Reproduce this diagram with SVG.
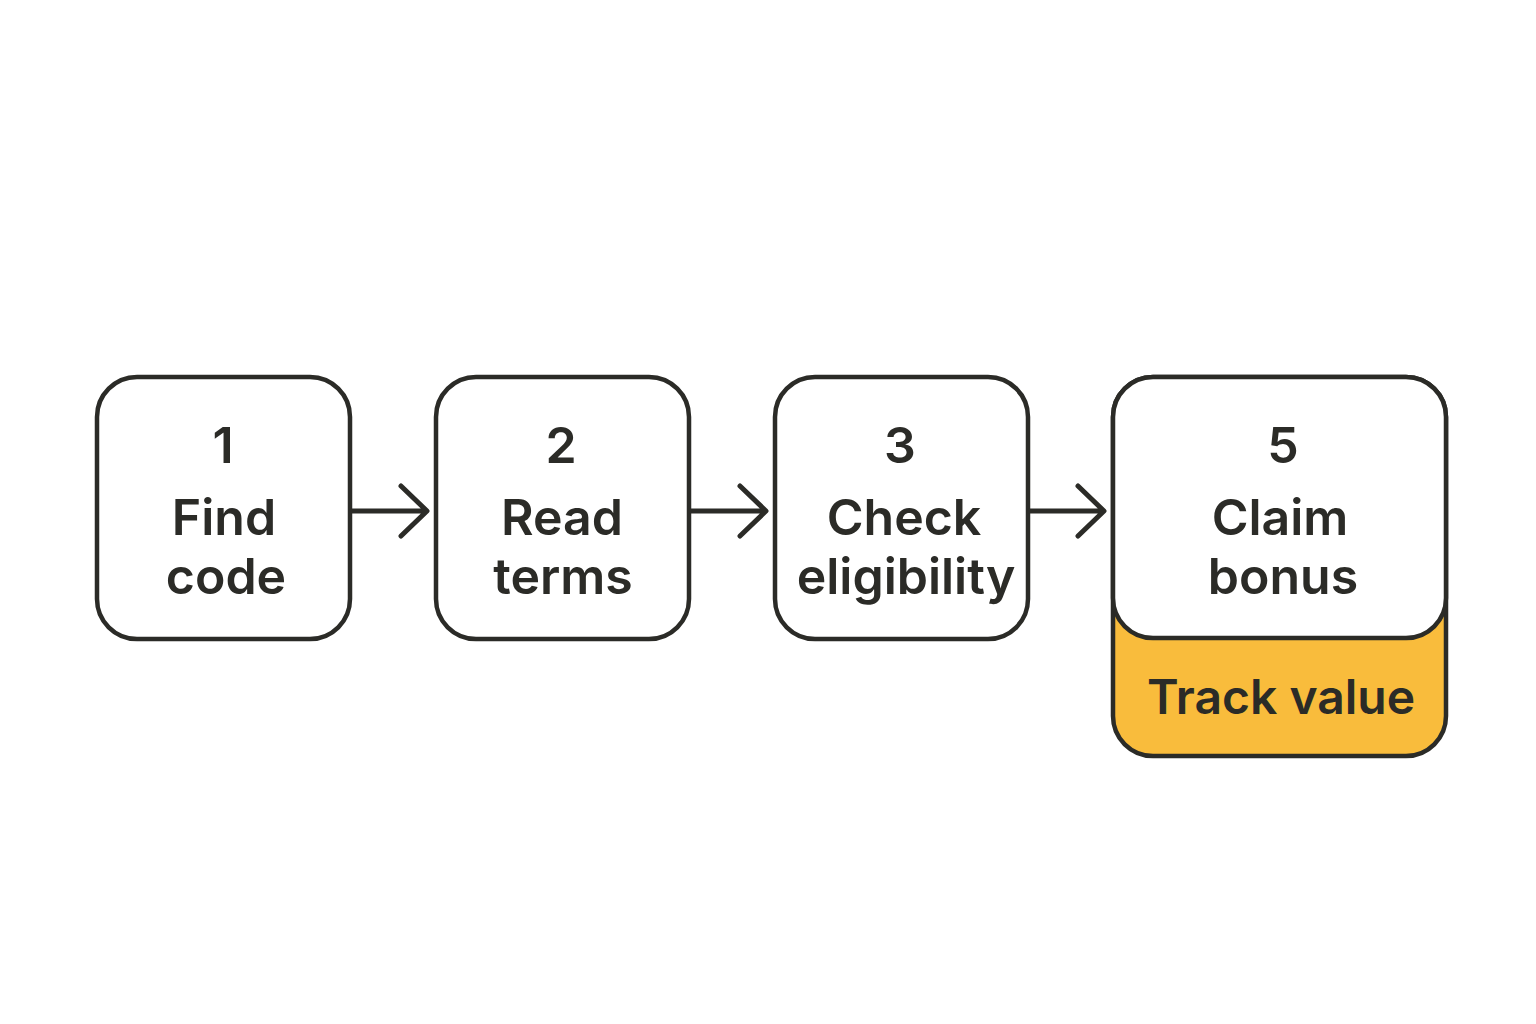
<svg xmlns="http://www.w3.org/2000/svg" width="1536" height="1024" viewBox="0 0 1536 1024">
<style>
.box{fill:#fff;stroke:#2b2b27;stroke-width:4.5}
.t{font-family:"Inter","Liberation Sans",sans-serif;font-weight:600;fill:#2b2b27;text-anchor:middle;font-size:50px}
.c{fill:none;stroke:#2b2b27;stroke-width:5;stroke-linecap:round;stroke-linejoin:round}
</style>
<rect width="1536" height="1024" fill="#fff"/>
<g id="n1">
<rect class="box" x="97" y="377" width="253" height="262" rx="40"/>
<text class="t" x="223" y="463">1</text>
<text class="t" x="224" y="535">Find</text>
<text class="t" x="226" y="594">code</text>
</g>
<g id="n2">
<rect class="box" x="436" y="377" width="253" height="262" rx="40"/>
<text class="t" x="561" y="463">2</text>
<text class="t" x="562" y="535">Read</text>
<text class="t" x="563" y="594">terms</text>
</g>
<g id="n3">
<rect class="box" x="775" y="377" width="253" height="262" rx="40"/>
<text class="t" x="900" y="463">3</text>
<text class="t" x="904" y="535">Check</text>
<text class="t" x="906" y="594">eligibility</text>
</g>
<g id="n5">
<rect x="1113" y="377" width="333" height="379" rx="40" fill="#f9bc3c" stroke="#2b2b27" stroke-width="4.5"/>
<rect class="box" x="1113" y="377" width="333" height="261" rx="40"/>
<text class="t" x="1283" y="463">5</text>
<text class="t" x="1280" y="535">Claim</text>
<text class="t" x="1283" y="594">bonus</text>
<text class="t" x="1281" y="714" style="font-size:48px">Track value</text>
</g>
<g id="connectors">
<path class="c" d="M352 511H426M401 486L427 511L401 536"/>
<path class="c" d="M691 511H765M740 486L766 511L740 536"/>
<path class="c" d="M1030 511H1103M1078 486L1104 511L1078 536"/>
</g>
</svg>
